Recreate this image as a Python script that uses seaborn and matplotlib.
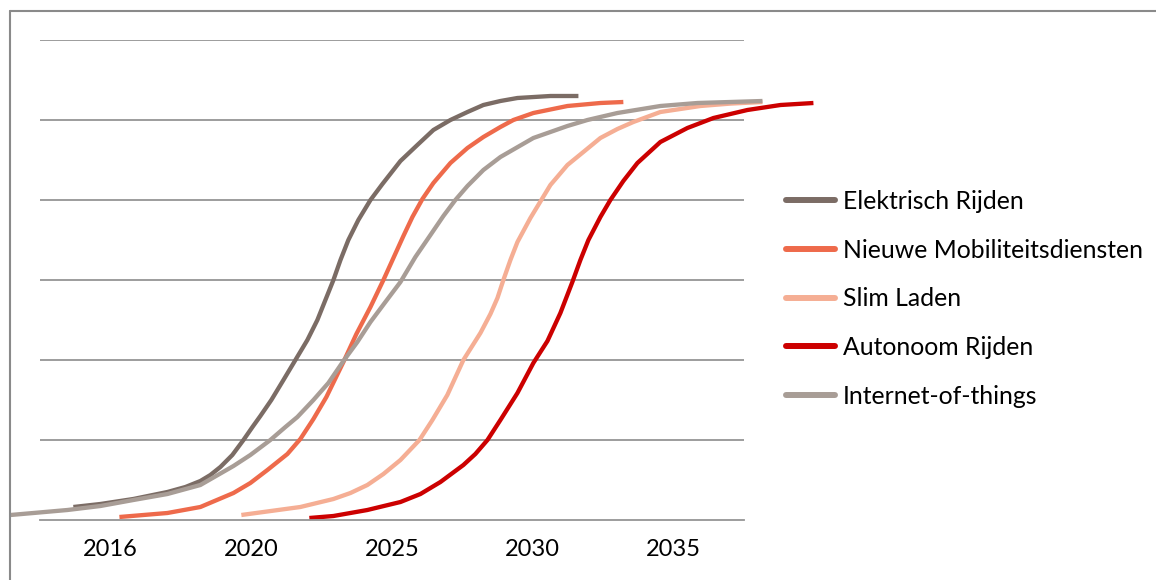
import matplotlib
matplotlib.use("Agg")
import matplotlib.pyplot as plt
from matplotlib.lines import Line2D
import seaborn as sns
import pandas as pd

# ---- data (x in category-position units: 0 = 2016 ... 4 = 2035; y in % of top gridline = 120) ----
categories = ["2016", "2020", "2025", "2030", "2035"]
series_names = ["Elektrisch Rijden", "Nieuwe Mobiliteitsdiensten", "Slim Laden",
                "Autonoom Rijden", "Internet-of-things"]

elektrisch_x = [-0.263, -0.071, 0.163, 0.405, 0.533, 0.639, 0.710, 0.781, 0.866, 0.945, 1.009,
                1.065, 1.143, 1.229, 1.314, 1.399, 1.470, 1.527, 1.584, 1.634, 1.690, 1.761,
                1.847, 1.932, 2.060, 2.180, 2.294, 2.415, 2.536, 2.649, 2.770, 2.891, 3.125,
                3.324]
elektrisch_y = [3.25, 4.0, 5.25, 7.0, 8.25, 9.75, 11.25, 13.25, 16.25, 20.0, 23.25,
                26.0, 30.0, 35.0, 40.0, 45.0, 50.0, 55.0, 60.0, 65.0, 70.0, 75.0,
                80.0, 84.0, 89.75, 93.75, 97.5, 100.0, 102.0, 103.75, 104.75, 105.5, 106.0,
                106.0]

nieuwe_x = [0.064, 0.405, 0.639, 0.874, 0.994, 1.115, 1.257, 1.349, 1.442, 1.534, 1.655, 1.747,
            1.847, 1.939, 2.010, 2.081, 2.145, 2.216, 2.294, 2.415, 2.536, 2.649, 2.770, 2.862,
            3.004, 3.246, 3.480, 3.643]
nieuwe_y = [0.75, 1.75, 3.25, 6.75, 9.25, 12.5, 16.5, 20.25, 25.25, 30.75, 39.5, 46.5,
            53.25, 60.0, 65.5, 71.0, 75.75, 80.25, 84.25, 89.25, 93.0, 95.75, 98.25, 100.0,
            101.75, 103.5, 104.25, 104.5]

slim_x = [0.930, 1.349, 1.584, 1.705, 1.825, 1.939, 2.060, 2.195, 2.287, 2.393, 2.507, 2.628,
          2.699, 2.749, 2.791, 2.841, 2.891, 2.983, 3.125, 3.246, 3.359, 3.480, 3.601, 3.714,
          3.906, 4.190, 4.403, 4.631]
slim_y = [1.25, 3.25, 5.25, 6.75, 8.75, 11.5, 15.0, 20.0, 25.0, 31.25, 40.0, 46.75,
          51.5, 55.5, 60.0, 65.0, 69.5, 75.5, 83.75, 88.75, 92.0, 95.5, 97.75, 99.5,
          102.0, 103.5, 104.1, 104.5]

autonoom_x = [1.413, 1.584, 1.825, 2.060, 2.202, 2.344, 2.507, 2.592, 2.678, 2.770, 2.891,
              3.004, 3.104, 3.196, 3.281, 3.338, 3.395, 3.480, 3.551, 3.643, 3.743, 3.906, 4.098,
              4.283, 4.524, 4.759, 4.993]
autonoom_y = [0.5, 1.0, 2.5, 4.5, 6.5, 9.5, 13.75, 16.5, 20.0, 25.0, 31.75,
              39.25, 44.75, 51.75, 59.5, 65.0, 70.0, 75.75, 80.0, 84.75, 89.25, 94.5, 98.0,
              100.5, 102.5, 103.75, 104.25]

iot_x = [-0.710, -0.547, -0.305, -0.071, 0.163, 0.405, 0.639, 0.874, 0.994, 1.136, 1.243, 1.328,
         1.442, 1.548, 1.655, 1.754, 1.847, 1.953, 2.060, 2.166, 2.273, 2.365, 2.450, 2.536,
         2.649, 2.770, 3.004, 3.246, 3.388, 3.601, 3.906, 4.169, 4.403, 4.631]
iot_y = [1.25, 1.75, 2.5, 3.5, 5.0, 6.5, 8.75, 13.5, 16.25, 20.0, 23.25, 25.75,
         30.0, 34.25, 39.75, 44.5, 49.5, 54.5, 59.5, 65.75, 71.25, 76.0, 80.0, 83.5,
         87.5, 90.75, 95.5, 98.5, 100.0, 101.75, 103.5, 104.25, 104.5, 104.75]

colors = ["#7b6c65", "#ee6a4b", "#f5ae94", "#cc0000", "#a89d96"]

# ---- build long table ----
all_x = [elektrisch_x, nieuwe_x, slim_x, autonoom_x, iot_x]
all_y = [elektrisch_y, nieuwe_y, slim_y, autonoom_y, iot_y]
rows = []
for name, xs, ys in zip(series_names, all_x, all_y):
    for xv, yv in zip(xs, ys):
        rows.append({"serie": name, "x": xv, "y": yv})
df = pd.DataFrame(rows)

sns.set_theme(style="white")
plt.rcParams["font.family"] = ["Lato", "DejaVu Sans"]

W, H = 1156, 580
fig = plt.figure(figsize=(W / 100, H / 100), dpi=100)
ax = fig.add_axes([40 / W, (H - 520) / H, (744 - 40) / W, (520 - 40) / H])

sns.lineplot(data=df, x="x", y="y", hue="serie", hue_order=series_names,
             palette=colors, sort=False, estimator=None,
             linewidth=3.1, ax=ax, legend=False)
for ln in ax.get_lines():
    ln.set_clip_on(False)
    ln.set_solid_capstyle("butt")
    ln.set_solid_joinstyle("round")

ax.set_xlim(-0.5, 4.5)
ax.set_ylim(0, 120)
ax.set_yticks([20, 40, 60, 80, 100, 120])
ax.set_yticklabels([])
ax.tick_params(axis="y", length=0)
ax.yaxis.grid(True, color="#959595", linewidth=1.3)
ax.set_axisbelow(True)

# category labels centred, tick marks at category boundaries
ax.set_xticks([i - 0.5 for i in range(len(categories) + 1)])
ax.set_xticklabels([])
ax.set_xticks(range(len(categories)), minor=True)
ax.set_xticklabels(categories, minor=True, fontsize=17, color="black")
ax.tick_params(axis="x", which="major", length=6, width=1.3, color="#959595", direction="out")
ax.tick_params(axis="x", which="minor", length=0, pad=14)
ax.set_xlabel("")
ax.set_ylabel("")

for s in ["left", "right", "top"]:
    ax.spines[s].set_visible(False)
ax.spines["bottom"].set_color("#959595")
ax.spines["bottom"].set_linewidth(1.3)

# legend
handles = [Line2D([0], [0], color=c, linewidth=4.3, solid_capstyle="round") for c in colors]
leg = fig.legend(handles, series_names, loc="upper left",
                 bbox_to_anchor=(786 / W, 1 - 190 / H), frameon=False,
                 fontsize=17.8, handlelength=2.0, handletextpad=0.3,
                 labelspacing=1.04, borderaxespad=0, borderpad=0)
for t in leg.get_texts():
    t.set_color("black")

# outer chart frame (top and left edges visible)
fig.add_artist(Line2D([10 / W, 10 / W], [0, 1 - 11 / H], color="#8a8a8a", linewidth=1.5,
                      transform=fig.transFigure))
fig.add_artist(Line2D([10 / W, 1], [1 - 11 / H, 1 - 11 / H], color="#8a8a8a", linewidth=1.5,
                      transform=fig.transFigure))

fig.savefig("out.png", dpi=100)
